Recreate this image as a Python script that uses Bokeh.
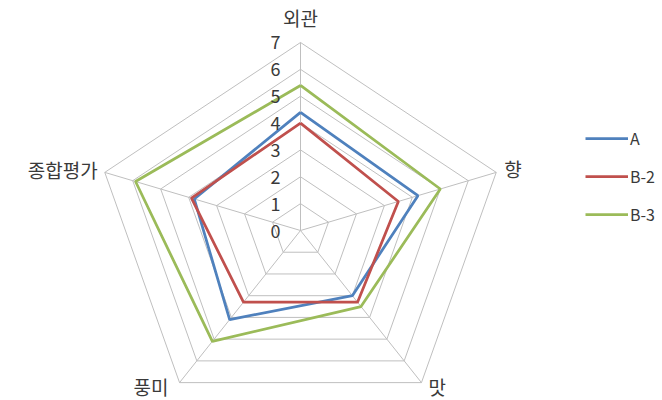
import numpy as np
from bokeh.plotting import figure
from bokeh.models import Range1d, Legend, LegendItem, ColumnDataSource
from bokeh.core.properties import value
from bokeh.embed import file_html
from bokeh.resources import INLINE

# ---- data ----
categories = ["외관", "향", "맛", "풍미", "종합평가"]
series_names = ["A", "B-2", "B-3"]
a_values = [4.4, 4.2, 3.0, 4.1, 3.8]
b2_values = [4.0, 3.5, 3.3, 3.3, 3.9]
b3_values = [5.4, 5.0, 3.5, 5.1, 5.9]
tick_values = [0, 1, 2, 3, 4, 5, 6, 7]
tick_labels = ["0", "1", "2", "3", "4", "5", "6", "7"]
r_max = 7

series_values = [a_values, b2_values, b3_values]
colors = ["#4F81BD", "#C0504D", "#9BBB59"]

FONT = "Noto Sans CJK KR"
TEXT_COLOR = "#3A3A3A"
GRID_COLOR = "#BFBFBF"

# pixel scale per value unit (horizontal, vertical)
UX, UY = 29.4, 26.86
n = len(categories)
angles = np.pi / 2 - 2 * np.pi * np.arange(n) / n


def to_xy(vals):
    v = np.asarray(vals, dtype=float)
    xs = v * np.cos(angles)
    ys = v * np.sin(angles)
    return list(xs) + [xs[0]], list(ys) + [ys[0]]


p = figure(width=662, height=400,
           x_range=Range1d(-300 / UX, 362 / UX),
           y_range=Range1d(-170 / UY, 230 / UY),
           output_backend="svg", toolbar_location=None,
           x_axis_location=None, y_axis_location=None,
           min_border=0)
p.outline_line_color = None
p.xgrid.visible = False
p.ygrid.visible = False
p.background_fill_color = "white"
p.border_fill_color = "white"

# ---- grid rings and spokes ----
ring_xs, ring_ys = [], []
for k in tick_values[1:]:
    xs, ys = to_xy([k] * n)
    ring_xs.append(xs)
    ring_ys.append(ys)
p.multi_line(ring_xs, ring_ys, line_color=GRID_COLOR, line_width=1)

spoke_xs = [[0, r_max * np.cos(a)] for a in angles]
spoke_ys = [[0, r_max * np.sin(a)] for a in angles]
p.multi_line(spoke_xs, spoke_ys, line_color=GRID_COLOR, line_width=1)

# ---- series ----
renderers = []
for vals, col in zip(series_values, colors):
    xs, ys = to_xy(vals)
    r = p.line(xs, ys, line_color=col, line_width=2.75)
    renderers.append(r)

# ---- tick labels on top axis ----
tick_src = ColumnDataSource(dict(x=[0.0] * len(tick_values),
                                 y=[float(t) for t in tick_values],
                                 text=tick_labels))
p.text(x="x", y="y", text="text", source=tick_src, x_offset=-20,
       text_align="right", text_baseline="middle",
       text_font=value(FONT), text_font_size="18px", text_color=TEXT_COLOR)

# ---- category labels ----
cx = [r_max * np.cos(a) for a in angles]
cy = [r_max * np.sin(a) for a in angles]
# per-label placement: (align, x_offset, y_offset)
place = [("center", 0, -25), ("left", 8, -4), ("left", 7, 4),
         ("right", -11, 4), ("right", -7, -3)]
for i, lab in enumerate(categories):
    al, dx, dy = place[i]
    p.text(x=[cx[i]], y=[cy[i]], text=[lab], x_offset=dx, y_offset=dy,
           text_align=al, text_baseline="middle",
           text_font=value(FONT), text_font_size="19px", text_color=TEXT_COLOR)

# ---- legend ----
legend = Legend(items=[LegendItem(label=nm, renderers=[r]) for nm, r in zip(series_names, renderers)],
                location=(585, 174), orientation="vertical",
                glyph_width=43, glyph_height=20, label_height=20,
                label_standoff=2, spacing=14, padding=0, margin=0,
                border_line_color=None, background_fill_alpha=0,
                label_text_font=FONT, label_text_font_size="16px",
                label_text_color=TEXT_COLOR)
p.add_layout(legend, "center")

open("out.html", "w").write(file_html(p, INLINE))
